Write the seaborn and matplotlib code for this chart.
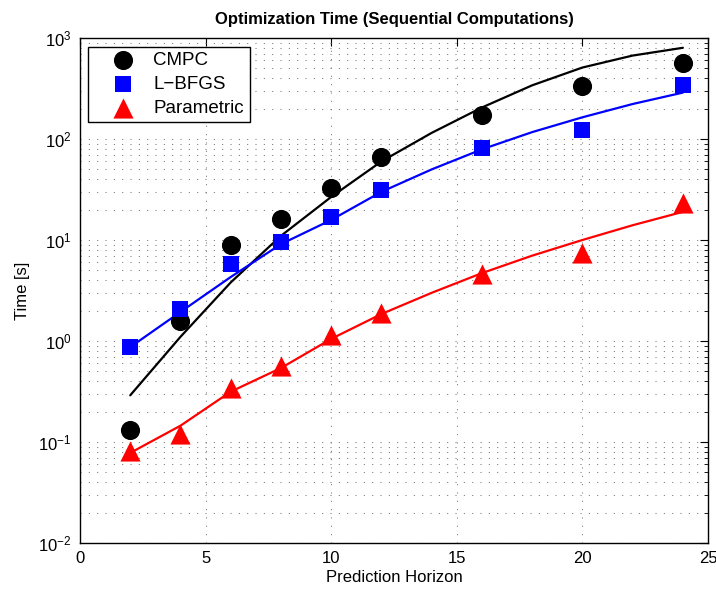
import matplotlib
matplotlib.use("Agg")
import matplotlib.pyplot as plt
import seaborn as sns
import numpy as np
import pandas as pd
from matplotlib.ticker import LogLocator, FixedLocator

# ---- data ----
horizon = [2, 4, 6, 8, 10, 12, 16, 20, 24]
cmpc = [0.13, 1.58, 8.9, 16, 33, 66, 173, 335, 565]
lbfgs = [0.88, 2.07, 5.8, 9.5, 16.9, 31, 81, 123, 343]
parametric = [0.081, 0.12, 0.34, 0.565, 1.15, 1.89, 4.6, 7.4, 23]

# fitted curves
fit_x = [2, 4, 6, 8, 10, 12, 14, 16, 18, 20, 22, 24]
cmpc_fit = [0.29, 1.1, 3.8, 11.0, 26.7, 60, 115, 205, 340, 510, 670, 800]
lbfgs_fit = [0.87, 1.94, 4.3, 9.1, 15.8, 30, 50, 79, 117, 164, 222, 288]
param_fit = [0.078, 0.145, 0.315, 0.54, 1.05, 1.85, 3.0, 4.7, 7.0, 10.0, 14.0, 19.0]

series = ["CMPC", "L\u2212BFGS", "Parametric"]
colors = ["#000000", "#0000ff", "#ff0000"]
markers = ["o", "s", "^"]
sizes = [190, 135, 210]

title = "Optimization Time (Sequential Computations)"
xlabel = "Prediction Horizon"
ylabel = "Time [s]"
xticks = [0, 5, 10, 15, 20, 25]

sns.set_style("white")
plt.rcParams["font.family"] = ["Liberation Sans", "DejaVu Sans"]
plt.rcParams["mathtext.fontset"] = "custom"
plt.rcParams["mathtext.rm"] = "Liberation Sans"
plt.rcParams["mathtext.it"] = "Liberation Sans"
plt.rcParams["text.color"] = "black"
plt.rcParams["axes.labelcolor"] = "black"
plt.rcParams["xtick.color"] = "black"
plt.rcParams["ytick.color"] = "black"

fig = plt.figure(figsize=(7.16, 5.90), dpi=100)
ax = fig.add_axes([80 / 716, 47 / 590, 628 / 716, 505 / 590])

pts = pd.DataFrame({
    "x": horizon * 3,
    "y": cmpc + lbfgs + parametric,
    "s": [series[0]] * 9 + [series[1]] * 9 + [series[2]] * 9,
})
fits = pd.DataFrame({
    "x": fit_x * 3,
    "y": cmpc_fit + lbfgs_fit + param_fit,
    "s": [series[0]] * 12 + [series[1]] * 12 + [series[2]] * 12,
})

for name, col, mk, sz in zip(series, colors, markers, sizes):
    sns.lineplot(data=fits[fits.s == name], x="x", y="y", color=col,
                 linewidth=1.6, ax=ax, legend=False, zorder=3)
for name, col, mk, sz in zip(series, colors, markers, sizes):
    sns.scatterplot(data=pts[pts.s == name], x="x", y="y", color=col,
                    marker=mk, s=sz, linewidth=0, ax=ax, label=name, zorder=4)

ax.set_yscale("log")
ax.set_xlim(0, 25)
ax.set_ylim(1e-2, 1e3)
ax.xaxis.set_major_locator(FixedLocator(xticks))
ax.yaxis.set_major_locator(LogLocator(base=10, numticks=10))
ax.yaxis.set_minor_locator(LogLocator(base=10, subs=np.arange(2, 10), numticks=20))

grid_kw = dict(color="#777777", linestyle=(0, (1, 7)), linewidth=0.75)
ax.grid(True, which="major", axis="both", **grid_kw)
ax.grid(True, which="minor", axis="y", **grid_kw)
ax.set_axisbelow(True)

ax.tick_params(which="both", direction="in", top=True, right=True,
               labelsize=12, colors="black")
ax.tick_params(which="major", length=6, width=0.8, pad=6)
ax.tick_params(which="minor", length=3, width=0.6)
for sp in ax.spines.values():
    sp.set_color("black")
    sp.set_linewidth(1.0)

ax.set_title(title, fontsize=12, fontweight="bold", pad=10)
ax.set_xlabel(xlabel, fontsize=12, labelpad=3)
ax.set_ylabel(ylabel, fontsize=12, labelpad=6)

leg = ax.legend(loc="upper left", bbox_to_anchor=(0.0125, 0.983), fontsize=13.5,
                frameon=True, fancybox=False, framealpha=1, edgecolor="black",
                borderpad=0.3, handletextpad=0.1, labelspacing=0.35,
                borderaxespad=0, handlelength=3.1)
leg.get_frame().set_linewidth(1.0)

fig.savefig("out.png", dpi=100)
